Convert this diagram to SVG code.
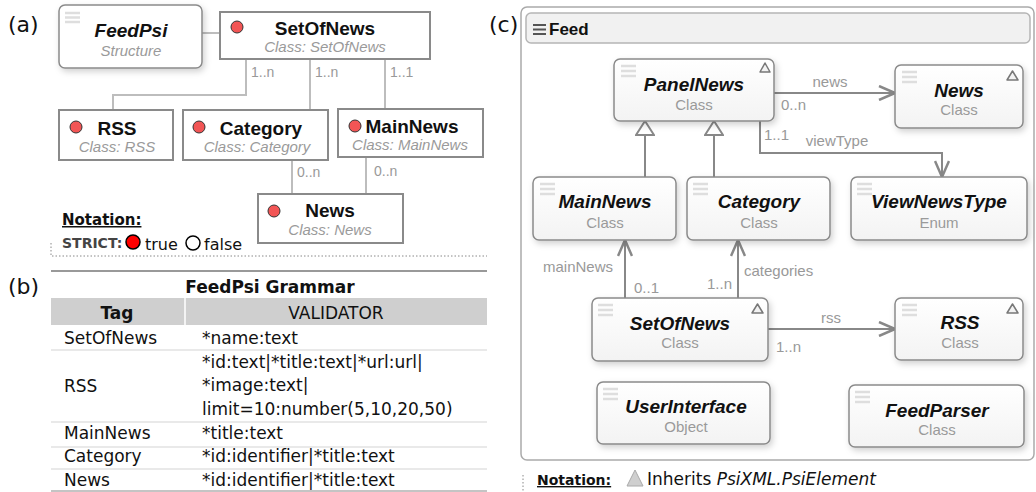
<svg xmlns="http://www.w3.org/2000/svg" width="1036" height="492" viewBox="0 0 1036 492">
  <defs>
    <style>
      .plab { font-family: "DejaVu Sans", sans-serif; font-size: 22px; fill: #111; }
      .abox { fill: #fff; stroke: #8a8a8a; stroke-width: 2; }
      .atitle { font-family: "Liberation Sans", Arial, sans-serif; font-size: 19px; font-weight: bold; fill: #111; text-anchor: middle; }
      .asub { font-family: "Liberation Sans", Arial, sans-serif; font-size: 15px; font-style: italic; fill: #9a9a9a; text-anchor: middle; }
      .dot { fill: #f25555; stroke: #333; stroke-width: 1; }
      .alink { fill: none; stroke: #bdbdbd; stroke-width: 2; }
      .amult { font-family: "Liberation Sans", Arial, sans-serif; font-size: 14px; fill: #999; }
      .note { font-family: "DejaVu Sans", sans-serif; font-weight: bold; fill: #111; text-decoration: underline; }
      .tcell { font-family: "DejaVu Sans", sans-serif; font-size: 17px; fill: #111; }
      .cnode { fill: url(#nodeFill); stroke: #8a8a8a; stroke-width: 1.5; filter: url(#shadow); }
      .ctitle { font-family: "Liberation Sans", Arial, sans-serif; font-size: 19px; font-weight: bold; font-style: italic; fill: #111; text-anchor: middle; }
      .csub { font-family: "Liberation Sans", Arial, sans-serif; font-size: 15px; fill: #9a9a9a; text-anchor: middle; }
      .menu { stroke: #dedede; stroke-width: 2.5; }
      .tri { fill: #f2f2f2; stroke: #777; stroke-width: 1.5; stroke-linejoin: round; }
      .clink { fill: none; stroke: #888; stroke-width: 2; }
      .clabel { font-family: "Liberation Sans", Arial, sans-serif; font-size: 15px; fill: #999; }
    </style>
    <linearGradient id="nodeFill" x1="0" y1="0" x2="0" y2="1">
      <stop offset="0" stop-color="#ffffff"/>
      <stop offset="1" stop-color="#f3f3f3"/>
    </linearGradient>
    <filter id="shadow" x="-10%" y="-10%" width="130%" height="140%">
      <feDropShadow dx="2" dy="3" stdDeviation="3" flood-color="#000" flood-opacity="0.18"/>
    </filter>
    <marker id="open" viewBox="0 0 18 16" refX="17" refY="8" markerWidth="18" markerHeight="16" markerUnits="userSpaceOnUse" orient="auto">
      <path d="M1,1 L17,8 L1,15" fill="none" stroke="#888" stroke-width="2.5"/>
    </marker>
    <marker id="inherit" viewBox="0 0 16 20" refX="15" refY="10" markerWidth="16" markerHeight="20" markerUnits="userSpaceOnUse" orient="auto">
      <path d="M1,1 L15,10 L1,19 Z" fill="#fff" stroke="#888" stroke-width="2"/>
    </marker>
  </defs>

  <rect width="1036" height="492" fill="#fff"/>

  <!-- ===== (a) structure tree ===== -->
  <text class="plab" x="8" y="32">(a)</text>

  <g id="a-links">
    <path class="alink" d="M202,33 H220"/>
    <path class="alink" d="M246,59 V95 H113 V110"/>
    <path class="alink" d="M310,59 V110"/>
    <path class="alink" d="M385,59 V109"/>
    <path class="alink" d="M292,160 V194"/>
    <path class="alink" d="M366,157 V194"/>
    <text class="amult" x="251" y="77">1..n</text>
    <text class="amult" x="315" y="77">1..n</text>
    <text class="amult" x="390" y="77">1..1</text>
    <text class="amult" x="297" y="177">0..n</text>
    <text class="amult" x="374" y="176">0..n</text>
  </g>

  <g id="a-feedpsi">
    <rect x="59" y="5" width="143" height="63" rx="6" fill="#fff" stroke="#8a8a8a" stroke-width="1.5" filter="url(#shadow)"/>
    <path class="menu" d="M65,13 H80 M65,17.5 H80 M65,22 H80"/>
    <text class="atitle" x="131" y="37" font-style="italic">FeedPsi</text>
    <text class="asub" x="131" y="56" font-style="normal">Structure</text>
  </g>

  <g id="a-setofnews">
    <rect class="abox" x="220" y="12" width="210" height="47"/>
    <circle class="dot" cx="237" cy="27" r="6"/>
    <text class="atitle" x="325" y="35">SetOfNews</text>
    <text class="asub" x="325" y="52">Class: SetOfNews</text>
  </g>

  <g id="a-rss">
    <rect class="abox" x="59" y="110" width="114" height="50"/>
    <circle class="dot" cx="76" cy="127" r="6"/>
    <text class="atitle" x="117" y="135">RSS</text>
    <text class="asub" x="117" y="152">Class: RSS</text>
  </g>

  <g id="a-category">
    <rect class="abox" x="183" y="110" width="145" height="50"/>
    <circle class="dot" cx="199" cy="127" r="6"/>
    <text class="atitle" x="261" y="135">Category</text>
    <text class="asub" x="257" y="152">Class: Category</text>
  </g>

  <g id="a-mainnews">
    <rect class="abox" x="338" y="109" width="145" height="48"/>
    <circle class="dot" cx="355" cy="126" r="6"/>
    <text class="atitle" x="412" y="133">MainNews</text>
    <text class="asub" x="410" y="150">Class: MainNews</text>
  </g>

  <g id="a-news">
    <rect class="abox" x="258" y="194" width="145" height="49"/>
    <circle class="dot" cx="274" cy="211" r="6"/>
    <text class="atitle" x="330" y="217">News</text>
    <text class="asub" x="330" y="235">Class: News</text>
  </g>

  <g id="a-notation">
    <text class="note" x="62" y="225" font-size="15">Notation:</text>
    <text x="62" y="248" font-family="DejaVu Sans, sans-serif" font-size="14" font-weight="bold" fill="#444">STRICT:</text>
    <circle cx="133" cy="242" r="7" fill="#ff0000" stroke="#000" stroke-width="1.5"/>
    <text x="145" y="250" font-family="DejaVu Sans, sans-serif" font-size="16" fill="#111">true</text>
    <circle cx="193" cy="243" r="7" fill="#fff" stroke="#000" stroke-width="1.5"/>
    <text x="204" y="250" font-family="DejaVu Sans, sans-serif" font-size="16" fill="#111">false</text>
    <path d="M51,243 V256 H487" fill="none" stroke="#888" stroke-width="1" stroke-dasharray="1.5,2"/>
  </g>

  <!-- ===== (b) grammar table ===== -->
  <text class="plab" x="8" y="294">(b)</text>
  <g id="b-table">
    <line x1="51" y1="271" x2="487" y2="271" stroke="#999" stroke-width="2"/>
    <text class="tcell" x="270" y="293" font-weight="bold" text-anchor="middle">FeedPsi Grammar</text>
    <rect x="51" y="298" width="436" height="27" fill="#cfcfcf"/>
    <line x1="185" y1="298" x2="185" y2="325" stroke="#fff" stroke-width="1.5"/>
    <text class="tcell" x="117" y="319" font-weight="bold" text-anchor="middle">Tag</text>
    <text class="tcell" x="336" y="319" text-anchor="middle">VALIDATOR</text>
    <g stroke="#e2e2e2" stroke-width="1.5">
      <line x1="51" y1="350" x2="487" y2="350"/>
      <line x1="51" y1="422" x2="487" y2="422"/>
      <line x1="51" y1="447" x2="487" y2="447"/>
      <line x1="51" y1="469" x2="487" y2="469"/>
    </g>
    <line x1="51" y1="491" x2="487" y2="491" stroke="#b0b0b0" stroke-width="1.5"/>
    <text class="tcell" x="64" y="344">SetOfNews</text>
    <text class="tcell" x="202" y="344">*name:text</text>
    <text class="tcell" x="64" y="392">RSS</text>
    <text class="tcell" x="202" y="368">*id:text|*title:text|*url:url|</text>
    <text class="tcell" x="202" y="391">*image:text|</text>
    <text class="tcell" x="202" y="415">limit=10:number(5,10,20,50)</text>
    <text class="tcell" x="64" y="439">MainNews</text>
    <text class="tcell" x="202" y="439">*title:text</text>
    <text class="tcell" x="64" y="462">Category</text>
    <text class="tcell" x="202" y="462">*id:identifier|*title:text</text>
    <text class="tcell" x="64" y="486">News</text>
    <text class="tcell" x="202" y="486">*id:identifier|*title:text</text>
  </g>

  <!-- ===== (c) Feed package ===== -->
  <text class="plab" x="489" y="32">(c)</text>
  <g id="c-frame">
    <rect x="521" y="7" width="513" height="453" rx="6" fill="#fff" stroke="#aaa" stroke-width="1.5"/>
    <rect x="526" y="13" width="504" height="30" rx="5" fill="#f1f1f1" stroke="#b5b5b5" stroke-width="1.5"/>
    <path d="M533,25 H546 M533,29.5 H546 M533,34 H546" stroke="#555" stroke-width="2"/>
    <text x="549" y="35" font-family="Liberation Sans, Arial, sans-serif" font-size="17" font-weight="bold" fill="#111">Feed</text>
  </g>

  <g id="c-connectors">
    <path class="clink" d="M774,93 H895" marker-end="url(#open)"/>
    <path class="clink" d="M760,121 V153 H942 V177" marker-end="url(#open)"/>
    <path class="clink" d="M645,177 V121" marker-end="url(#inherit)"/>
    <path class="clink" d="M714,177 V121" marker-end="url(#inherit)"/>
    <path class="clink" d="M625,298 V240" marker-end="url(#open)"/>
    <path class="clink" d="M738,298 V240" marker-end="url(#open)"/>
    <path class="clink" d="M768,329 H895" marker-end="url(#open)"/>
    <text class="clabel" x="830" y="87" text-anchor="middle">news</text>
    <text class="clabel" x="781" y="110">0..n</text>
    <text class="clabel" x="764" y="140">1..1</text>
    <text class="clabel" x="837" y="146" text-anchor="middle">viewType</text>
    <text class="clabel" x="578" y="272" text-anchor="middle">mainNews</text>
    <text class="clabel" x="634" y="293">0..1</text>
    <text class="clabel" x="707" y="289">1..n</text>
    <text class="clabel" x="744" y="276">categories</text>
    <text class="clabel" x="831" y="323" text-anchor="middle">rss</text>
    <text class="clabel" x="776" y="352">1..n</text>
  </g>

  <g id="c-panelnews">
    <rect class="cnode" x="614" y="59" width="160" height="62" rx="6"/>
    <path class="menu" d="M621,66 H636 M621,71 H636 M621,76 H636"/>
    <path class="tri" d="M765,63 L770,72 L760,72 Z"/>
    <text class="ctitle" x="694" y="91">PanelNews</text>
    <text class="csub" x="694" y="110">Class</text>
  </g>

  <g id="c-news">
    <rect class="cnode" x="895" y="65" width="128" height="63" rx="6"/>
    <path class="menu" d="M902,72 H917 M902,77 H917 M902,82 H917"/>
    <path class="tri" d="M1012.5,71 L1018,80 L1007,80 Z"/>
    <text class="ctitle" x="959" y="97">News</text>
    <text class="csub" x="959" y="115">Class</text>
  </g>

  <g id="c-mainnews">
    <rect class="cnode" x="533" y="177" width="143" height="63" rx="6"/>
    <path class="menu" d="M540,184 H555 M540,189 H555 M540,194 H555"/>
    <text class="ctitle" x="605" y="208">MainNews</text>
    <text class="csub" x="605" y="228">Class</text>
  </g>

  <g id="c-category">
    <rect class="cnode" x="687" y="177" width="143" height="63" rx="6"/>
    <path class="menu" d="M693,184 H708 M693,189 H708 M693,194 H708"/>
    <text class="ctitle" x="759" y="208">Category</text>
    <text class="csub" x="759" y="228">Class</text>
  </g>

  <g id="c-viewnewstype">
    <rect class="cnode" x="851" y="177" width="176" height="63" rx="6"/>
    <path class="menu" d="M857,184 H872 M857,189 H872 M857,194 H872"/>
    <text class="ctitle" x="939" y="208">ViewNewsType</text>
    <text class="csub" x="939" y="228">Enum</text>
  </g>

  <g id="c-setofnews">
    <rect class="cnode" x="592" y="298" width="176" height="63" rx="6"/>
    <path class="menu" d="M598,305 H613 M598,310 H613 M598,315 H613"/>
    <path class="tri" d="M757.5,304 L763,313 L752,313 Z"/>
    <text class="ctitle" x="680" y="330">SetOfNews</text>
    <text class="csub" x="680" y="348">Class</text>
  </g>

  <g id="c-rss">
    <rect class="cnode" x="895" y="298" width="128" height="62" rx="6"/>
    <path class="menu" d="M902,305 H917 M902,310 H917 M902,315 H917"/>
    <path class="tri" d="M1012.5,304 L1018,313 L1007,313 Z"/>
    <text class="ctitle" x="960" y="329">RSS</text>
    <text class="csub" x="960" y="348">Class</text>
  </g>

  <g id="c-userinterface">
    <rect class="cnode" x="597" y="382" width="173" height="62" rx="6"/>
    <path class="menu" d="M603,389 H618 M603,394 H618 M603,399 H618"/>
    <text class="ctitle" x="686" y="413">UserInterface</text>
    <text class="csub" x="686" y="432">Object</text>
  </g>

  <g id="c-feedparser">
    <rect class="cnode" x="849" y="385" width="175" height="62" rx="6"/>
    <path class="menu" d="M855,392 H870 M855,397 H870 M855,402 H870"/>
    <text class="ctitle" x="937" y="417">FeedParser</text>
    <text class="csub" x="937" y="435">Class</text>
  </g>

  <g id="c-notation">
    <path d="M523,475 V491" stroke="#888" stroke-width="1" stroke-dasharray="1.5,2"/>
    <text class="note" x="537" y="485" font-size="14">Notation:</text>
    <path d="M635,470 L643,486 L627,486 Z" fill="#cfcfcf" stroke="#aaa" stroke-width="1"/>
    <text x="647" y="485" font-family="DejaVu Sans, sans-serif" font-size="17" fill="#111">Inherits <tspan font-style="italic">PsiXML.PsiElement</tspan></text>
  </g>
</svg>
